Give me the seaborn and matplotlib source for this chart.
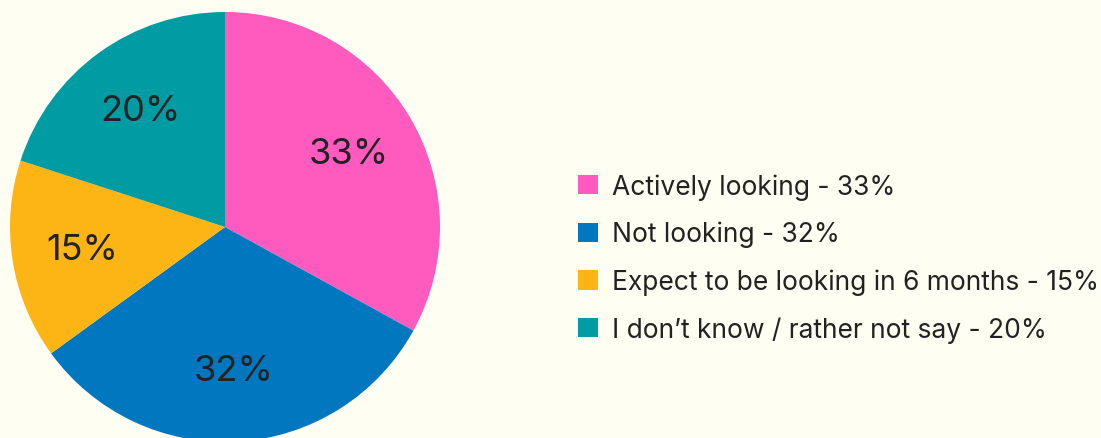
import matplotlib
matplotlib.use("Agg")
import matplotlib.pyplot as plt
import seaborn as sns

categories = ["Actively looking", "Not looking", "Expect to be looking in 6 months", "I don\u2019t know / rather not say"]
values = [33, 32, 15, 20]
colors = ["#FF5ABE", "#0077BE", "#FDB515", "#009BA3"]

BG = "#FEFEF2"
sns.set_theme(style="white")
plt.rcParams["font.family"] = ["Inter", "DejaVu Sans"]

palette = sns.color_palette(colors)

W, H = 1101, 439
fig = plt.figure(figsize=(W / 100, H / 100), dpi=100, facecolor=BG)
cx, cy, r = 225, 228, 215
ax = fig.add_axes([(cx - r) / W, (H - cy - r) / H, 2 * r / W, 2 * r / H])
ax.set_facecolor(BG)

wedges, texts, autotexts = ax.pie(
    values, colors=palette, startangle=90, counterclock=False,
    autopct=lambda p: f"{p:.0f}%", pctdistance=0.67, radius=1,
    wedgeprops=dict(linewidth=0),
    textprops=dict(fontsize=26, color="#222222"),
)
ax.set_xlim(-1, 1)
ax.set_ylim(-1, 1)
ax.set_aspect("equal")
ax.axis("off")

labels = [f"{c} - {v}%" for c, v in zip(categories, values)]
leg = fig.legend(
    wedges, labels, loc="center left",
    bbox_to_anchor=(578 / W, 1 - 259 / H), frameon=False,
    prop=dict(size=19), handlelength=0.75, handleheight=0.75,
    handletextpad=0.55, labelspacing=0.80, borderpad=0, borderaxespad=0,
)
for t in leg.get_texts():
    t.set_color("#222222")

fig.savefig("out.png", dpi=100, facecolor=BG)
